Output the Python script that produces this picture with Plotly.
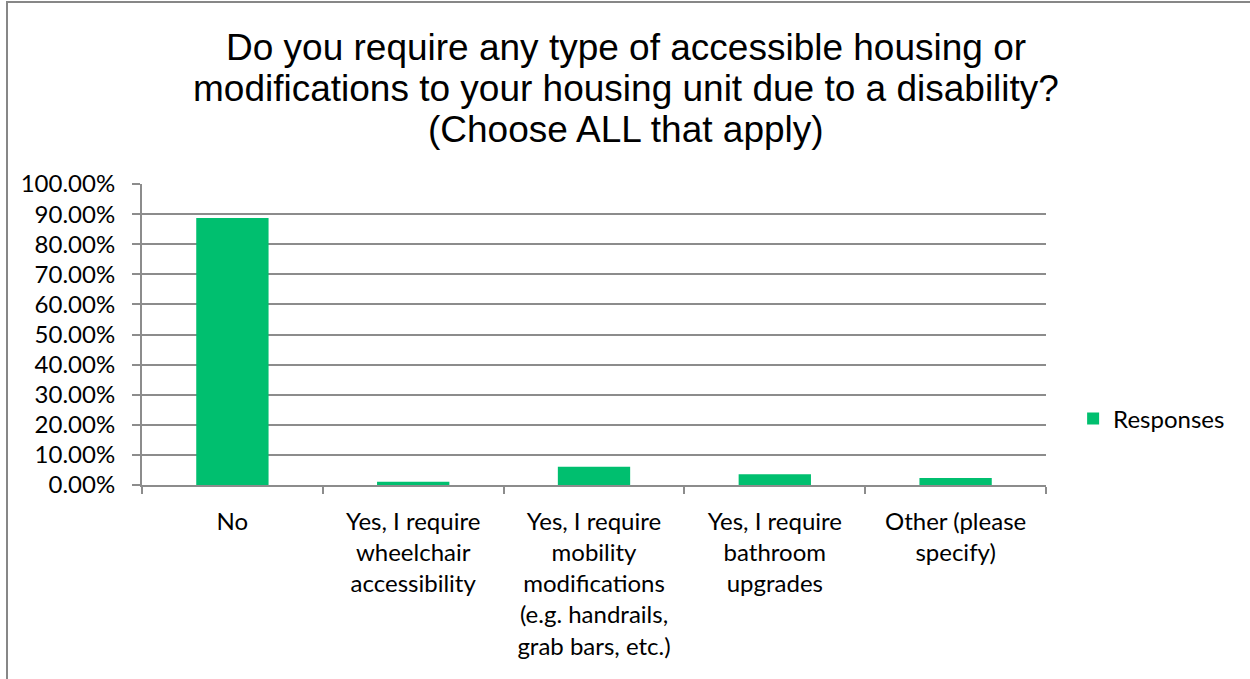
import plotly.graph_objects as go

# Survey answers and share of respondents
categories = [
    "No",
    "Yes, I require<br>wheelchair<br>accessibility",
    "Yes, I require<br>mobility<br>modifications<br>(e.g. handrails,<br>grab bars, etc.)",
    "Yes, I require<br>bathroom<br>upgrades",
    "Other (please<br>specify)",
]
responses = [0.887, 0.011, 0.061, 0.036, 0.023]
y_ticks = [i / 10 for i in range(11)]
title_lines = [
    "Do you require any type of accessible housing or",
    "modifications to your housing unit due to a disability?",
    "(Choose ALL that apply)",
]

W, H = 1250, 679
L, R, T, B = 142, 204, 184, 194
PW, PH = W - L - R, H - T - B

fig = go.Figure(
    go.Bar(
        x=categories,
        y=responses,
        name="Responses",
        marker=dict(color="#00BF6F", line=dict(width=0)),
        showlegend=True,
    )
)

grid_color = "#8c8c8c"
tick_font = dict(family="Lato, Noto Sans, sans-serif", size=24, color="#000000")
title_font = dict(family="Liberation Sans, Arial, sans-serif", size=37, color="#000000")

# Title drawn line by line (centred on the chart area) for tighter line spacing
title_y = [47, 88, 130]
title_cx = 626
annotations = [
    dict(
        text=line,
        xref="paper",
        yref="paper",
        x=(title_cx - L) / PW,
        y=1 + (T - yy) / PH,
        xanchor="center",
        yanchor="middle",
        showarrow=False,
        font=title_font,
    )
    for line, yy in zip(title_lines, title_y)
]

fig.update_layout(
    width=W,
    height=H,
    margin=dict(l=L, r=R, t=T, b=B),
    paper_bgcolor="white",
    plot_bgcolor="white",
    bargap=0.6,
    annotations=annotations,
    xaxis=dict(
        type="category",
        tickson="boundaries",
        ticks="outside",
        ticklen=7,
        tickwidth=2,
        tickcolor=grid_color,
        showline=True,
        linecolor=grid_color,
        linewidth=2,
        showgrid=False,
        tickfont=tick_font,
        ticklabelstandoff=14,
    ),
    yaxis=dict(
        range=[0, 1.0],
        tickvals=y_ticks,
        tickformat=".2%",
        ticks="outside",
        ticklen=8,
        tickwidth=2,
        tickcolor=grid_color,
        showline=True,
        linecolor=grid_color,
        linewidth=2,
        showgrid=True,
        gridcolor=grid_color,
        gridwidth=2,
        zeroline=False,
        tickfont=tick_font,
        ticklabelstandoff=12,
    ),
    legend=dict(
        x=1.03,
        xanchor="left",
        y=0.22,
        yanchor="middle",
        font=tick_font,
        itemwidth=30,
    ),
    shapes=[
        dict(
            type="rect",
            xref="paper",
            yref="paper",
            x0=(7 - L) / PW,
            x1=(W + 10 - L) / PW,
            y0=-(B + 10) / PH,
            y1=1 + (T - 2) / PH,
            line=dict(color="#878787", width=2),
            fillcolor="rgba(0,0,0,0)",
            layer="below",
        )
    ],
)

fig.write_html("out.html")
